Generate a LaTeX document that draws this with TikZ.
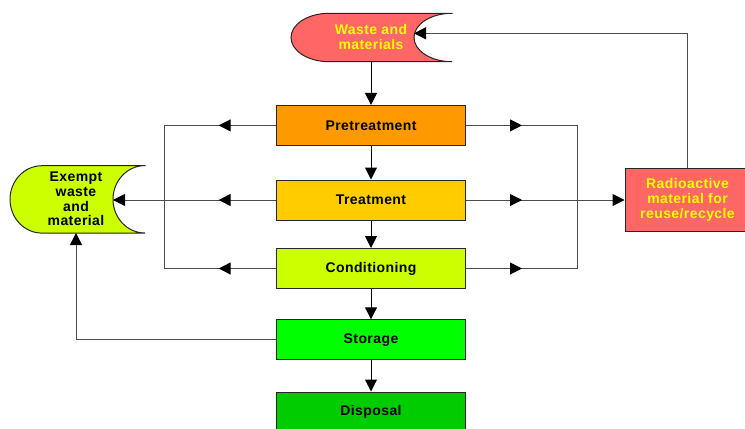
\documentclass[tikz,border=0pt]{standalone}
\usepackage{fontspec}
\setmainfont[LetterSpace=3]{Liberation Sans}
\usetikzlibrary{arrows.meta,decorations.markings}
\definecolor{wastered}{HTML}{FF6666}
\definecolor{labelyellow}{HTML}{FFFF00}
\definecolor{pretcol}{HTML}{FF9900}
\definecolor{treatcol}{HTML}{FFCC00}
\definecolor{condcol}{HTML}{CCFF00}
\definecolor{storecol}{HTML}{00FF00}
\definecolor{dispcol}{HTML}{00CC00}
\tikzset{
  >={Triangle[length=9pt,width=9pt,color=black]},
  txt/.style={font=\bfseries\fontsize{10.5}{11}\selectfont, align=center},
  stage/.style={txt, draw=black!85, line width=0.75pt, minimum width=141.75pt, minimum height=30pt},
  flow/.style={line width=0.75pt, black!70},
  down/.style={line width=0.75pt, black, ->},
  midarrow/.style={postaction={decorate},
    decoration={markings, mark=at position #1 with {\arrow{>}}}},
}
\begin{document}
\begin{tikzpicture}[x=0.75pt,y=0.75pt]
      \useasboundingbox (0,0) rectangle (745,-428);
      \clip (0,0) rectangle (745,-428);
      % curved source and sink shapes
      \fill[wastered, draw=black!85, line width=0.75pt]
        (452,-13.3) -- (329,-13.3) arc[start angle=90, end angle=270, x radius=38, y radius=24.2]
        -- (452,-61.7) arc[start angle=270, end angle=90, x radius=38, y radius=24.2] -- cycle;
      \fill[condcol, draw=black!85, line width=0.75pt]
        (145,-165.7) -- (42,-165.7) arc[start angle=90, end angle=270, x radius=32, y radius=33.7]
        -- (145,-233) arc[start angle=270, end angle=90, x radius=32, y radius=33.7] -- cycle;
      \node[txt, text=labelyellow] (waste) at (371,-37) {Waste and\\materials};
      \node[txt] (exempt) at (76,-199) {Exempt\\waste\\and\\material};
      % stages
      \node[stage, fill=pretcol] (pret) at (371,-125.4) {Pretreatment};
      \node[stage, fill=treatcol] (treat) at (371,-200) {Treatment};
      \node[stage, fill=condcol] (cond) at (371,-268.5) {Conditioning};
      \node[stage, fill=storecol] (store) at (371,-339.8) {Storage};
      \node[stage, fill=dispcol] (disp) at (371,-412) {Disposal};
      \node[stage, fill=wastered, text=labelyellow, minimum width=93.75pt, minimum height=47.5pt]
        (rad) at (687.5,-200) {Radioactive\\material for\\reuse/recycle};
      \coordinate (wastebot) at (371,-61.7);
      \coordinate (wastein) at (414,-33.3);
      \coordinate (exin) at (113,-200);
      \coordinate (exbot) at (76,-233);
      \coordinate (pl) at (164,-125.4);
      \coordinate (cl) at (164,-268.5);
      \coordinate (pr) at (577,-125.4);
      \coordinate (cr) at (577,-268.5);
      % side loops
      \begin{scope}[flow]
        \draw[midarrow=43pt] (pret.west) -- (pl);
        \draw[midarrow=43pt] (cond.west) -- (cl);
        \draw (pl) -- (cl);
        \draw[midarrow=43pt, ->] (treat.west) -- (exin);
        \draw[midarrow=42pt] (pret.east) -- (pr);
        \draw[midarrow=42pt] (cond.east) -- (cr);
        \draw (pr) -- (cr);
        \draw[midarrow=42pt, ->] (treat.east) -- (rad.west);
        \draw[->] (rad.north) |- (wastein);
        \draw[->] (store.west) -| (exbot);
      \end{scope}
      % main line
      \draw[down] (wastebot) -- (pret.north);
      \draw[down] (pret.south) -- (treat.north);
      \draw[down] (treat.south) -- (cond.north);
      \draw[down] (cond.south) -- (store.north);
      \draw[down] (store.south) -- (disp.north);
    \end{tikzpicture}
\end{document}
